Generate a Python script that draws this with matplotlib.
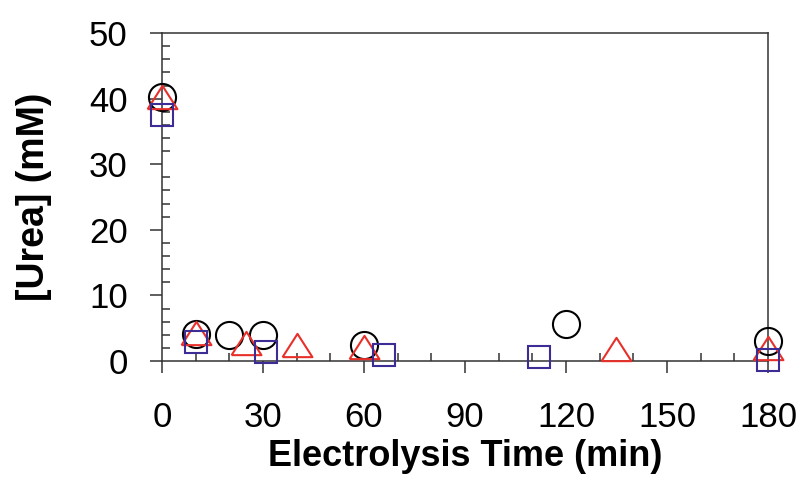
import matplotlib
matplotlib.use("Agg")
import matplotlib.pyplot as plt
from matplotlib.ticker import MultipleLocator

# ── DATA ──────────────────────────────────────────────────────────────────────
circ_t = [0, 10, 20, 30, 60, 120, 180]
circ_u = [40.3, 4.1, 4.0, 4.0, 2.4, 5.7, 3.0]

tri_t = [0, 10, 25, 40, 60, 135, 180]
tri_u = [40.2, 4.2, 2.7, 2.4, 2.2, 1.9, 2.0]

sq_t = [0, 10, 31, 66, 112, 180]
sq_u = [37.5, 2.9, 1.4, 0.9, 0.6, 0.1]

x_ticks = [0, 30, 60, 90, 120, 150, 180]
y_ticks = [0, 10, 20, 30, 40, 50]

# ── STIJL ─────────────────────────────────────────────────────────────────────
AS_KLEUR = "#333333"
ROOD = "#e8302a"
BLAUW = "#3b2d95"

# breder dan hoog, zoals in het origineel
DRIEHOEK = [(-1, -0.78), (1, -0.78), (0, 0.78), (-1, -0.78)]

plt.rcParams["font.family"] = ["Liberation Sans", "DejaVu Sans"]

fig = plt.figure(figsize=(8.05, 4.80), dpi=100)
ax = fig.add_axes([0.2012, 0.248, 0.7528, 0.683])

ax.plot(circ_t, circ_u, linestyle="none", marker="o", markersize=19.5,
        markerfacecolor="none", markeredgecolor="black", markeredgewidth=1.5,
        clip_on=False, zorder=3)
ax.plot(tri_t, tri_u, linestyle="none", marker=DRIEHOEK, markersize=21.5,
        markerfacecolor="none", markeredgecolor=ROOD, markeredgewidth=1.5,
        clip_on=False, zorder=4)
ax.plot(sq_t, sq_u, linestyle="none", marker="s", markersize=16.5,
        markerfacecolor="none", markeredgecolor=BLAUW, markeredgewidth=1.5,
        clip_on=False, zorder=5)

ax.set_xlim(0, 180)
ax.set_ylim(0, 50)
ax.set_xticks(x_ticks)
ax.set_yticks(y_ticks)
ax.xaxis.set_minor_locator(MultipleLocator(10))
ax.yaxis.set_minor_locator(MultipleLocator(2))

for s in ax.spines.values():
    s.set_color(AS_KLEUR)
    s.set_linewidth(1.1)

ax.tick_params(which="major", direction="out", length=8.6, width=1.1,
               color=AS_KLEUR, labelsize=25, labelcolor="black")
ax.tick_params(axis="x", which="major", pad=20)
ax.tick_params(axis="y", which="major", pad=16)
ax.tick_params(which="minor", direction="in", length=6, width=1.1,
               color=AS_KLEUR)

ax.set_xlabel("Electrolysis Time (min)", fontsize=26, fontweight="bold",
              labelpad=4)
ax.set_ylabel("[Urea] (mM)", fontsize=27, fontweight="bold", labelpad=27)

fig.savefig("out.png", dpi=100)
